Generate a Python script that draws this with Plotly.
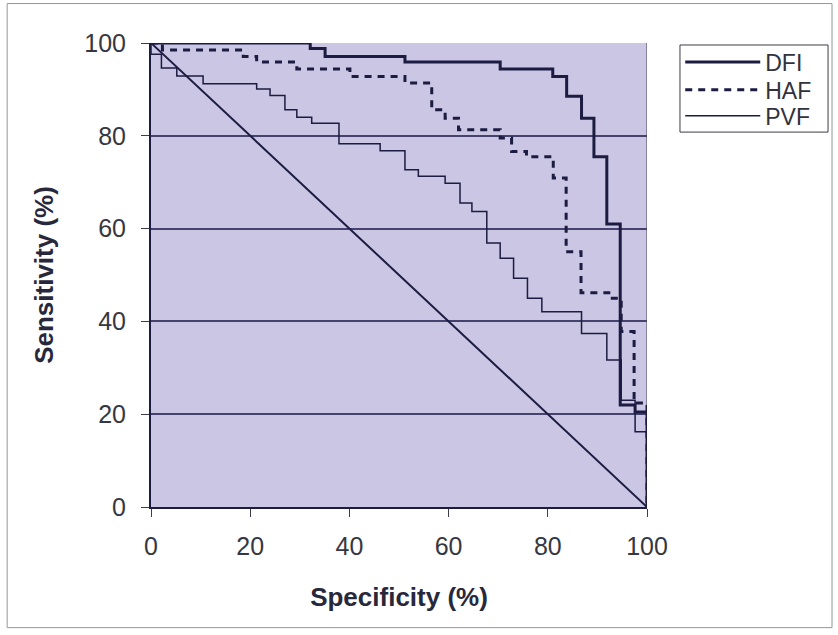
import plotly.graph_objects as go

# ROC step curves (specificity %, sensitivity %) – drop points
dfi_spec = [0, 32.1, 35.1, 51.2, 70.4, 81.0, 83.8, 86.8, 89.3, 91.9, 94.6, 97.6, 100, 100]
dfi_sens = [100, 98.8, 97.1, 95.9, 94.4, 92.8, 88.5, 83.8, 75.5, 61.0, 22.0, 20.5, 20.5, 0]

haf_spec = [0, 2.3, 18.6, 21.3, 29.4, 40.1, 51.2, 56.6, 59.3, 62.0, 70.4, 72.7, 75.7,
            81.1, 83.7, 86.7, 92.3, 94.8, 97.4, 100, 100]
haf_sens = [100, 98.5, 97.1, 95.9, 94.4, 92.8, 91.4, 85.6, 83.8, 81.3, 79.5, 76.6, 75.5,
            70.9, 55.0, 46.2, 45.0, 37.8, 22.4, 22.4, 0]

pvf_spec = [0, 0, 2.1, 5.2, 10.5, 21.3, 24.0, 27.0, 29.4, 32.4, 37.9, 46.2, 51.2, 53.9,
            59.3, 62.3, 64.7, 67.7, 70.4, 73.1, 75.9, 78.8, 86.8, 91.9, 94.8, 97.6, 100, 100]
pvf_sens = [100, 97.6, 94.6, 92.9, 91.2, 90.1, 88.7, 85.6, 84.0, 82.7, 78.3, 76.8, 72.7, 71.3,
            69.8, 65.5, 63.7, 56.9, 53.6, 49.3, 45.0, 42.1, 37.4, 31.7, 23.0, 16.2, 16.2, 0]

diag_x = [0, 100]
diag_y = [100, 0]

x_ticks = [0, 20, 40, 60, 80, 100]
y_ticks = [0, 20, 40, 60, 80, 100]

INK = "rgb(28,28,66)"
FONT = "Arial, Liberation Sans, sans-serif"
TICKFONT = dict(family=FONT, size=25, color="rgb(55,55,65)")
TITLEFONT = dict(family=FONT, size=26, color="rgb(40,40,60)")
LEGFONT = dict(family=FONT, size=23, color="rgb(50,50,60)")

fig = go.Figure()
fig.add_trace(go.Scatter(x=diag_x, y=diag_y, mode="lines", showlegend=False,
                         line=dict(color=INK, width=2), hoverinfo="skip"))
fig.add_trace(go.Scatter(x=dfi_spec, y=dfi_sens, mode="lines", name="DFI", line_shape="hv",
                         line=dict(color=INK, width=3), legend="legend"))
fig.add_trace(go.Scatter(x=haf_spec, y=haf_sens, mode="lines", name="HAF", line_shape="hv",
                         line=dict(color=INK, width=3, dash="7px,6px"), legend="legend2"))
fig.add_trace(go.Scatter(x=pvf_spec, y=pvf_sens, mode="lines", name="PVF", line_shape="hv",
                         line=dict(color=INK, width=1.5), legend="legend3"))

leg_common = dict(x=1.067, xanchor="left", yanchor="middle", bgcolor="rgba(0,0,0,0)",
                  borderwidth=0, font=LEGFONT, itemwidth=75)

fig.update_layout(
    width=838, height=635,
    margin=dict(l=151, r=191, t=43, b=128, autoexpand=False),
    paper_bgcolor="white",
    plot_bgcolor="rgb(202,198,228)",
    font=dict(family=FONT, size=22, color="rgb(55,55,65)"),
    showlegend=True,
    legend=dict(y=0.959, **leg_common),
    legend2=dict(y=0.899, **leg_common),
    legend3=dict(y=0.843, **leg_common),
    xaxis=dict(range=[0, 100], tickvals=x_ticks, ticks="outside", ticklen=8,
               tickcolor="rgb(60,60,80)", showline=True, linecolor=INK, linewidth=2,
               showgrid=False, zeroline=False, automargin=False,
               tickfont=TICKFONT, ticklabelstandoff=8,
               title=dict(text="<b>Specificity (%)</b>", standoff=29, font=TITLEFONT)),
    yaxis=dict(range=[0, 100], tickvals=y_ticks, ticks="outside", ticklen=8,
               tickcolor="rgb(60,60,80)", showline=True, linecolor=INK, linewidth=2,
               showgrid=True, gridcolor="rgb(70,66,110)", gridwidth=1.5, zeroline=False,
               automargin=False, tickfont=TICKFONT, ticklabelstandoff=10,
               title=dict(text="<b>Sensitivity (%)</b>", standoff=23, font=TITLEFONT)),
    shapes=[
        dict(type="line", xref="x", yref="y", x0=100, x1=100, y0=0, y1=100,
             line=dict(color="rgb(110,106,140)", width=1.5), layer="below"),
        dict(type="rect", xref="paper", yref="paper", x0=-0.290, x1=1.373, y0=-0.26, y1=1.085,
             line=dict(color="rgb(150,150,150)", width=1)),
        dict(type="rect", xref="paper", yref="paper", x0=1.0665, x1=1.365, y0=0.808, y1=0.9957,
             line=dict(color="rgb(60,60,70)", width=1), fillcolor="white"),
    ],
)

fig.write_html("out.html")
